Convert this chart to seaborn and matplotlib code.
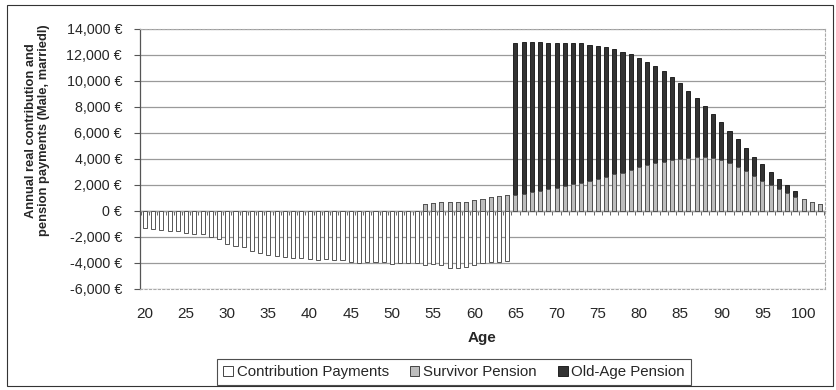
import numpy as np
import pandas as pd
import matplotlib
matplotlib.use("Agg")
import matplotlib.pyplot as plt
import seaborn as sns
from matplotlib.patches import Patch, Rectangle
from matplotlib.ticker import FuncFormatter

# ages on the x axis
ages = list(range(20, 103))

# contribution payments, ages 20-64 (negative)
contribution = [-1280, -1380, -1460, -1500, -1570, -1680, -1740, -1760, -1970, -2180,
                -2560, -2720, -2800, -3040, -3250, -3350, -3460, -3540, -3590, -3630,
                -3670, -3740, -3720, -3780, -3790, -3900, -4000, -3950, -3950, -3940,
                -4110, -3980, -4000, -4000, -4170, -4090, -4170, -4350, -4370, -4270,
                -4150, -3990, -3930, -3920, -3860]

# survivor pension, ages 54-102
survivor = [560, 630, 670, 670, 720, 730, 820, 930, 1040, 1130, 1220,
            1230, 1310, 1440, 1530, 1680, 1800, 1890, 2050, 2170, 2300,
            2450, 2620, 2810, 2960, 3190, 3370, 3520, 3700, 3800, 3910,
            4020, 4100, 4170, 4130, 4050, 3920, 3710, 3400, 3090, 2680,
            2340, 2000, 1670, 1360, 1060, 930, 720, 520]

# old-age pension, ages 65-102
old_age = [11720, 11670, 11540, 11450, 11270, 11120, 11060, 10900, 10730, 10500,
           10240, 9970, 9630, 9300, 8890, 8400, 7970, 7450, 6970, 6430,
           5800, 5160, 4520, 3970, 3410, 2960, 2470, 2150, 1760, 1510,
           1240, 990, 800, 610, 490, 0, 0, 0]

tick_ages = list(range(20, 101, 5))


def pad(values, first_age):
    out = [np.nan] * len(ages)
    for i, v in enumerate(values):
        out[first_age - 20 + i] = v
    return out


df = pd.DataFrame({
    "age": ages,
    "contribution": pad(contribution, 20),
    "survivor": pad(survivor, 54),
    "old_age": pad(old_age, 65),
})
df["total"] = df["survivor"].fillna(0) + df["old_age"].fillna(0)
df.loc[df["total"] == 0, "total"] = np.nan

sns.set_style("white")
plt.rcParams["font.family"] = ["Liberation Sans", "DejaVu Sans"]

fig = plt.figure(figsize=(8.36, 3.9), dpi=100)
ax = fig.add_axes([140 / 836, 1 - 289 / 390, (825 - 140) / 836, (289 - 29) / 390])

bar_kws = dict(order=ages, width=0.5, errorbar=None, saturation=1, linewidth=0.7, ax=ax)
sns.barplot(data=df, x="age", y="contribution", color="white", edgecolor="#555555", **bar_kws)
# stacked: draw the total in black, then the survivor part over it in grey
sns.barplot(data=df, x="age", y="total", color="#333333", edgecolor="#222222", **bar_kws)
sns.barplot(data=df, x="age", y="survivor", color="#bdbdbd", edgecolor="#555555", **bar_kws)

ax.set_ylim(-6000, 14000)
ax.set_yticks(range(-6000, 14001, 2000))
ax.yaxis.set_major_formatter(FuncFormatter(lambda v, p: f"{v:,.0f} €"))
ax.set_xlim(-0.6, len(ages) - 0.4)
ax.set_xticks([a - 20 for a in tick_ages])
ax.set_xticklabels([str(a) for a in tick_ages])
ax.tick_params(axis="x", length=0, labelsize=11, pad=13)
ax.tick_params(axis="y", length=4, width=0.8, color="#555555", labelsize=10.3, left=True, pad=9)

ax.set_axisbelow(True)
ax.yaxis.grid(True, color="#9a9a9a", linewidth=0.9)
ax.xaxis.grid(False)

for side in ["top", "right", "bottom"]:
    ax.spines[side].set_linestyle((0, (2, 2)))
    ax.spines[side].set_color("#aaaaaa")
    ax.spines[side].set_linewidth(0.8)
ax.spines["left"].set_color("#555555")
ax.spines["left"].set_linewidth(0.9)

# category axis crossing at zero with tick marks between categories
sec = ax.secondary_xaxis(6000 / 20000)
sec.set_xticks(np.arange(-0.5, len(ages), 1))
sec.set_xticklabels([])
sec.tick_params(axis="x", length=3, width=0.7, color="#666666", direction="out")
sec.spines["bottom"].set_color("#555555")
sec.spines["bottom"].set_linewidth(0.9)

ax.set_xlabel("Age", fontsize=11, fontweight="bold", labelpad=7)
ax.set_ylabel("Annual real contribution and\npension payments (Male, marriedl)",
              fontsize=9.3, fontweight="bold", linespacing=1.1)
ax.yaxis.set_label_coords(-0.132, 0.61)

handles = [
    Patch(facecolor="white", edgecolor="#444444", linewidth=0.7, label="Contribution Payments"),
    Patch(facecolor="#bdbdbd", edgecolor="#444444", linewidth=0.7, label="Survivor Pension"),
    Patch(facecolor="#333333", edgecolor="#222222", linewidth=0.7, label="Old-Age Pension"),
]
leg = fig.legend(handles=handles, loc="center", bbox_to_anchor=(454 / 836, 1 - 372 / 390), ncol=3,
                 fontsize=10.8, frameon=True, fancybox=False, edgecolor="#222222",
                 handlelength=0.65, handleheight=0.65, handletextpad=0.25,
                 columnspacing=1.4, borderpad=0.4)
leg.get_frame().set_linewidth(0.8)

fig.patches.append(Rectangle((7 / 836, 4 / 390), 826 / 836, 381 / 390, transform=fig.transFigure,
                             fill=False, edgecolor="#333333", linewidth=0.8))

fig.savefig("out.png", dpi=100)
